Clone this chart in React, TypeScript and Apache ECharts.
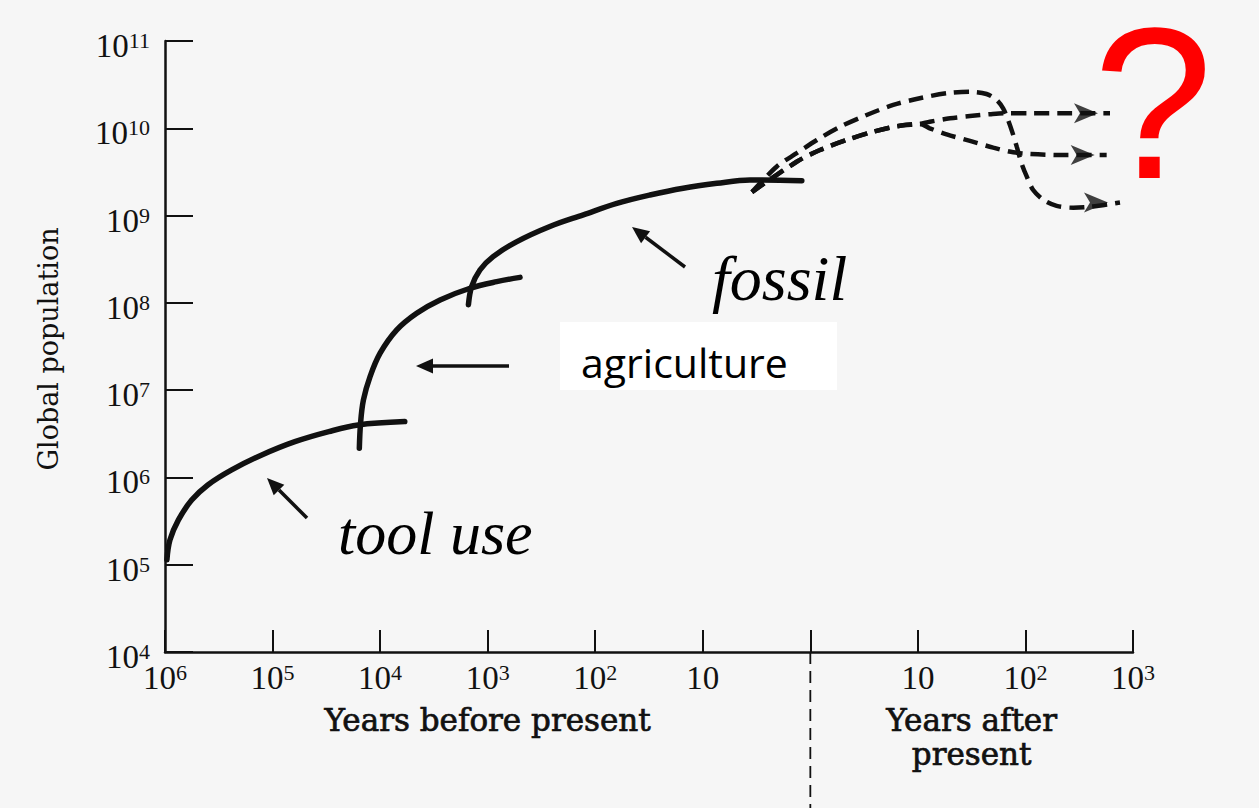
import React, { useEffect, useRef } from "react";
import * as echarts from "echarts";

// Time in years relative to the present (negative = before present), global population
const toolUseCurve: [number, number][] = [
  [-9.6e5, 1.14e5], [-9.0e5, 1.92e5], [-7.5e5, 3.26e5], [-5.65e5, 5.5e5], [-4.0e5, 8.2e5],
  [-2.4e5, 1.22e6], [-1.26e5, 1.81e6], [-6.2e4, 2.57e6], [-3.0e4, 3.35e6], [-1.6e4, 3.99e6],
  [-5.9e3, 4.36e6],
];
const agricultureCurve: [number, number][] = [
  [-15600, 2.16e6], [-15200, 4.18e6], [-14300, 7.7e6], [-12400, 1.43e7], [-10000, 2.65e7],
  [-7000, 4.9e7], [-4570, 7.6e7], [-2770, 1.08e8], [-1460, 1.47e8], [-824, 1.75e8], [-500, 1.96e8],
];
const fossilCurve: [number, number][] = [
  [-1510, 9.5e7], [-1410, 1.53e8], [-1180, 2.38e8], [-890, 3.38e8], [-540, 5.0e8], [-264, 7.5e8],
  [-129, 1.02e9], [-63, 1.38e9], [-31, 1.72e9], [-15.2, 2.06e9], [-7.4, 2.34e9], [-3.64, 2.56e9],
  [-1.2, 2.51e9],
];
const overshootProjection: [number, number][] = [
  [-3.49, 1.86e9], [-2.06, 3.63e9], [-1.34, 5.18e9], [1.15, 7.35e9], [1.89, 1.04e10], [3.34, 1.42e10],
  [5.9, 1.85e10], [10.4, 2.21e10], [18.5, 2.52e10], [30.5, 2.62e10], [43.5, 2.47e10], [54, 2.11e10],
  [62, 1.69e10], [69, 1.24e10], [76, 8.8e9], [83, 6.15e9], [92, 3.97e9], [103, 2.79e9], [118, 1.96e9],
  [147, 1.51e9], [195, 1.29e9], [279, 1.23e9], [398, 1.26e9], [757, 1.41e9],
];
const projectionCommon: [number, number][] = [
  [-3.49, 1.86e9], [-1.34, 4.14e9], [1.23, 5.64e9], [2.18, 7.35e9], [3.85, 9.14e9], [6.8, 1.07e10],
  [10.4, 1.12e10],
];
const plateauHighTail: [number, number][] = [
  [12.9, 1.19e10], [19.9, 1.30e10], [30.5, 1.38e10], [46.8, 1.45e10], [66.8, 1.49e10], [110, 1.49e10],
  [225, 1.49e10], [611, 1.49e10],
];
const plateauLowTail: [number, number][] = [
  [12.9, 1.0e10], [18.5, 8.5e9], [30.5, 7.16e9], [50.2, 6.0e9], [77.1, 5.31e9], [110, 5.08e9],
  [225, 4.94e9], [569, 4.94e9],
];

// Tick labels: exponent of 10 shown at axis positions -6..3 (null = present, no label)
const xTickExponents: (number | null)[] = [6, 5, 4, 3, 2, 1, null, 1, 2, 3];
const yTickExponents: number[] = [4, 5, 6, 7, 8, 9, 10, 11];

const toAxis = (t: number) => (t < 0 ? -Math.log10(-t) : Math.log10(t));
const mapCurve = (c: [number, number][]) => c.map(([t, p]) => [toAxis(t), p]);

const INK = "#111111";
const NUM_FONT = "Liberation Serif";

const richTick = {
  b: { fontFamily: NUM_FONT, fontSize: 33, color: INK, lineHeight: 33 },
  s: { fontFamily: NUM_FONT, fontSize: 22, color: INK, lineHeight: 22, verticalAlign: "top" },
};

const expLabel = (e: number | null | undefined) => {
  if (e === null || e === undefined) return "";
  if (e === 1) return "{b|10}";
  return "{b|10}{s|" + e + "}";
};

function arrow(x1: number, y1: number, x2: number, y2: number) {
  const ang = Math.atan2(y2 - y1, x2 - x1);
  const len = 17;
  const half = 7.5;
  const bx = x2 - len * Math.cos(ang);
  const by = y2 - len * Math.sin(ang);
  const px = -Math.sin(ang);
  const py = Math.cos(ang);
  return [
    { type: "line", z: 10, shape: { x1, y1, x2: bx, y2: by }, style: { stroke: INK, lineWidth: 3.5 } },
    {
      type: "polygon",
      z: 10,
      shape: { points: [[x2, y2], [bx + px * half, by + py * half], [bx - px * half, by - py * half]] },
      style: { fill: INK },
    },
  ];
}

const titleText = (text: string, x: number, y: number) => ({
  type: "text",
  style: {
    text, x, y,
    font: '31px "DejaVu Serif"', fill: INK, stroke: INK, lineWidth: 0.7,
    textAlign: "center", textVerticalAlign: "middle", align: "center", verticalAlign: "middle",
  },
});

export default function App() {
  const ref = useRef<HTMLDivElement>(null);

  useEffect(() => {
    if (!ref.current) return;
    const chart = echarts.init(ref.current, undefined, { renderer: "svg" });

    const solidStyle = { color: INK, width: 5.5, cap: "round" };
    const dashStyle = { color: INK, width: 4.5, type: [15, 8] };

    const highProj = mapCurve([...projectionCommon, ...plateauHighTail]);
    const lowProj = mapCurve([...projectionCommon, ...plateauLowTail]);
    const overProj = mapCurve(overshootProjection);
    const arrowTips = [overProj[overProj.length - 1], highProj[highProj.length - 1], lowProj[lowProj.length - 1]];

    const option: any = {
      animation: false,
      backgroundColor: "#f6f6f6",
      grid: { left: 165, right: 126, top: 41, bottom: 156, containLabel: false },
      xAxis: {
        type: "value",
        min: -6,
        max: 3,
        interval: 1,
        splitLine: { show: false },
        axisLine: { onZero: false, lineStyle: { color: INK, width: 2.5 } },
        axisTick: { inside: true, length: 22, lineStyle: { color: INK, width: 2 } },
        axisLabel: {
          margin: 9,
          formatter: (v: number) => expLabel(xTickExponents[Math.round(v) + 6]),
          rich: richTick,
        },
      },
      yAxis: {
        type: "log",
        logBase: 10,
        min: 1e4,
        max: 1e11,
        splitNumber: 7,
        splitLine: { show: false },
        axisLine: { onZero: false, lineStyle: { color: INK, width: 2.5 } },
        axisTick: { inside: true, length: 28, lineStyle: { color: INK, width: 2 } },
        axisLabel: {
          margin: 15,
          padding: [10, 0, 0, 0],
          formatter: (v: number) => {
            const e = Math.round(Math.log10(v));
            return yTickExponents.includes(e) ? expLabel(e === 1 ? 0 : e) : "";
          },
          rich: richTick,
        },
      },
      series: [
        { type: "line", data: mapCurve(toolUseCurve), smooth: 0.35, symbol: "none", lineStyle: solidStyle },
        { type: "line", data: mapCurve(agricultureCurve), smooth: 0.35, symbol: "none", lineStyle: solidStyle },
        { type: "line", data: mapCurve(fossilCurve), smooth: 0.35, symbol: "none", lineStyle: solidStyle },
        { type: "line", data: overProj, smooth: 0.3, symbol: "none", lineStyle: dashStyle },
        { type: "line", data: highProj, smooth: 0.3, symbol: "none", lineStyle: dashStyle },
        { type: "line", data: lowProj, smooth: 0.3, symbol: "none", lineStyle: dashStyle },
        {
          type: "scatter",
          data: arrowTips,
          symbol: "arrow",
          symbolSize: [15, 24],
          symbolRotate: -90,
          symbolOffset: [-12, 0],
          itemStyle: { color: INK },
          z: 5,
        },
      ],
    };
    chart.setOption(option);

    const px = (v: number) => chart.convertToPixel({ xAxisIndex: 0 }, v) as number;
    const x0 = px(0);
    const xBefore = px(-3);
    const xAfter = px(1.5);

    const graphic: any[] = [
      {
        type: "line",
        shape: { x1: x0, y1: 652, x2: x0, y2: 808 },
        style: { stroke: INK, lineWidth: 1.8, lineDash: [12, 7] },
      },
      titleText("Years before present", xBefore, 720),
      titleText("Years after", xAfter, 720),
      titleText("present", xAfter, 754),
      {
        type: "text",
        x: 48,
        y: 349,
        rotation: Math.PI / 2,
        style: {
          text: "Global population", x: 0, y: 0,
          font: '27px "DejaVu Serif"', fill: INK,
          textAlign: "center", textVerticalAlign: "middle", align: "center", verticalAlign: "middle",
        },
      },
      { type: "rect", z: 8, shape: { x: 560, y: 322, width: 277, height: 68 }, style: { fill: "#ffffff" } },
      {
        type: "text",
        z: 9,
        style: {
          text: "agriculture", x: 581, y: 362,
          font: '41px "Open Sans"', fill: "#000",
          textAlign: "left", textVerticalAlign: "middle", align: "left", verticalAlign: "middle",
        },
      },
      {
        type: "text",
        z: 9,
        style: {
          text: "fossil", x: 712, y: 278,
          font: 'italic 64px "Liberation Serif"', fill: "#000",
          textAlign: "left", textVerticalAlign: "middle", align: "left", verticalAlign: "middle",
        },
      },
      {
        type: "text",
        z: 9,
        style: {
          text: "tool use", x: 338, y: 533,
          font: 'italic 62px "Liberation Serif"', fill: "#000",
          textAlign: "left", textVerticalAlign: "middle", align: "left", verticalAlign: "middle",
        },
      },
      {
        type: "text",
        z: 9,
        style: {
          text: "?", x: 1153, y: 103, lineHeight: 170,
          font: '215px "Liberation Sans"', fill: "#ff0000",
          textAlign: "center", textVerticalAlign: "middle", align: "center", verticalAlign: "middle",
        },
      },
      ...arrow(685, 267, 632, 227),
      ...arrow(509, 366, 416, 366),
      ...arrow(307, 518, 267, 478),
    ];
    chart.setOption({ graphic });

    return () => chart.dispose();
  }, []);

  return <div ref={ref} style={{ position: "absolute", left: 0, top: 0, width: 1259, height: 808 }} />;
}
